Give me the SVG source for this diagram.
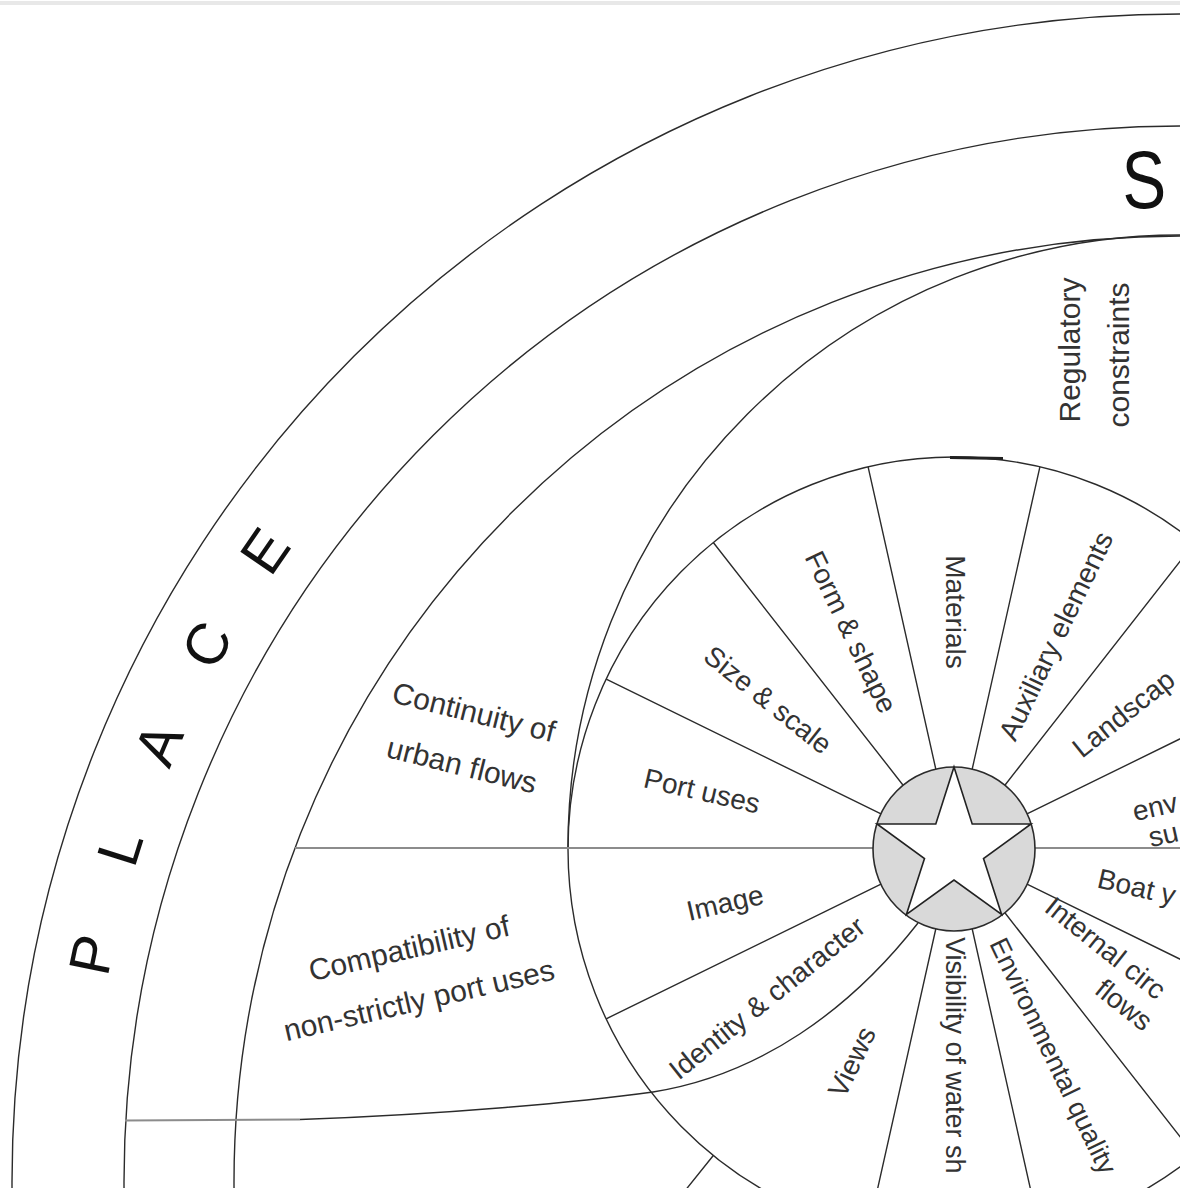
<svg xmlns="http://www.w3.org/2000/svg" width="1180" height="1188" viewBox="0 0 1180 1188">
<style>
.ln{fill:none;stroke:#2b2b2b;stroke-width:1.4}
.hz{fill:none;stroke:#8c8c8c;stroke-width:2.2}
.big{font-family:"Liberation Sans",Arial,sans-serif;font-size:58px;fill:#111;text-anchor:middle;dominant-baseline:central}
.lab{font-family:"Liberation Sans",Arial,sans-serif;font-size:28px;fill:#333;text-anchor:middle;dominant-baseline:central}
.st{text-anchor:start}
.out{font-family:"Liberation Sans",Arial,sans-serif;font-size:30px;fill:#333;text-anchor:middle;dominant-baseline:central}
</style>
<rect width="1180" height="1188" fill="#fff"/>
<line x1="0" y1="3" x2="1180" y2="3" stroke="#e8e8e8" stroke-width="4"/>

<g id="rings">
<circle cx="1180" cy="1182" r="1168" class="ln"/>
<circle cx="1180" cy="1182" r="1056" class="ln"/>
<circle cx="1180" cy="1182" r="946" class="ln"/>
<path d="M568,847 A612,612 0 0 1 1180,235" class="ln"/>
<ellipse cx="954" cy="849" rx="386" ry="392" class="ln"/>
<path d="M950,457.5 L1003,458.5" stroke="#222" stroke-width="3" fill="none"/>
</g>

<g id="connectors">
<line x1="295" y1="848" x2="873" y2="848" class="hz"/>
<line x1="1035" y1="848" x2="1180" y2="848" class="hz"/>
<path d="M125,1120.5 L300,1119.5" class="hz" style="stroke-width:1.8"/>
<path d="M300,1119.5 C450,1114 580,1102 653,1092 C760,1075 850,1010 918,923" class="ln"/>
<path class="ln" d="M1027,813.9 L1301.8,679.2 M1004.5,785.7 L1194.7,542.5 M972,770 L1039.9,466.8 M936,770 L868.1,466.8 M903.5,785.7 L713.3,542.5 M881,813.9 L606.2,679.2 M881,884.1 L606.2,1018.8 M713.3,1155.5 L680,1197 M936,928 L868.1,1231.2 M972,928 L1039.9,1231.2 M1004.5,912.3 L1194.7,1155.5 M1027,884.1 L1301.8,1018.8"/>
</g>

<g id="star">
<ellipse cx="954" cy="849" rx="81" ry="82" fill="#d9d9d9" stroke="#2b2b2b" stroke-width="1.6"/>
<polygon points="954,767 972.2,823.9 1031,824 983.5,858.6 1001.6,914.5 954,880 906.4,914.5 924.5,858.6 877,824 935.8,823.9" fill="#fff" stroke="#222" stroke-width="1.6" stroke-linejoin="miter"/>
</g>

<g id="place">
<text class="big" transform="translate(91.5,954.6) rotate(-78.2)">P</text>
<text class="big" transform="translate(119.5,847.6) rotate(-72.5)">L</text>
<text class="big" transform="translate(158,744) rotate(-66.8)">A</text>
<text class="big" transform="translate(206.4,644.6) rotate(-61.1)">C</text>
<text class="big" transform="translate(264.7,550.6) rotate(-55.4)">E</text>
</g>
<g id="s-band">
<text class="big" style="font-size:82px" transform="translate(1144,180) rotate(-2) scale(0.8,1)">S</text>
</g>

<g id="regulatory">
<text class="out" transform="translate(1069,350) rotate(-90)">Regulatory</text>
<text class="out" transform="translate(1118,355) rotate(-90)">constraints</text>
</g>
<g id="continuity">
<text class="out" transform="translate(474,712) rotate(14)">Continuity of</text>
<text class="out" transform="translate(462,765) rotate(14)">urban flows</text>
</g>
<g id="compatibility">
<text class="out" transform="translate(409,948) rotate(-13)">Compatibility of</text>
<text class="out" transform="translate(419,1000) rotate(-13)">non-strictly port uses</text>
</g>

<g id="w-materials"><text class="lab" transform="translate(955,612) rotate(90)">Materials</text></g>
<g id="w-auxiliary"><text class="lab" transform="translate(1056,636) rotate(-64.3)">Auxiliary elements</text></g>
<g id="w-landscap"><text class="lab st" transform="translate(1076,751.5) rotate(-38.6)">Landscap</text></g>
<g id="w-env-su">
<text class="lab st" transform="translate(1133,812) rotate(-12.9)">env</text>
<text class="lab st" transform="translate(1149,838) rotate(-12.9)">su</text>
</g>
<g id="w-form"><text class="lab" transform="translate(851,632) rotate(64.3)">Form &amp; shape</text></g>
<g id="w-size"><text class="lab" transform="translate(768,700) rotate(38.6)">Size &amp; scale</text></g>
<g id="w-port"><text class="lab" transform="translate(702,791) rotate(13)">Port uses</text></g>
<g id="w-image"><text class="lab" transform="translate(725,903) rotate(-13)">Image</text></g>
<g id="w-identity"><text class="lab" transform="translate(767,998) rotate(-38.6)">Identity &amp; character</text></g>
<g id="w-views"><text class="lab" transform="translate(852,1062) rotate(-64.3)">Views</text></g>
<g id="w-visibility"><text class="lab st" style="font-size:27px" transform="translate(955,937) rotate(90)">Visibility of water sh</text></g>
<g id="w-envquality"><text class="lab" style="font-size:27px" transform="translate(1053,1056) rotate(64.3)">Environmental quality</text></g>
<g id="w-internal">
<text class="lab st" transform="translate(1049,903) rotate(38.6)">Internal circ</text>
<text class="lab" transform="translate(1124,1005) rotate(38.6)">flows</text>
</g>
<g id="w-boat"><text class="lab st" transform="translate(1098,878) rotate(12.9)">Boat y</text></g>
</svg>
